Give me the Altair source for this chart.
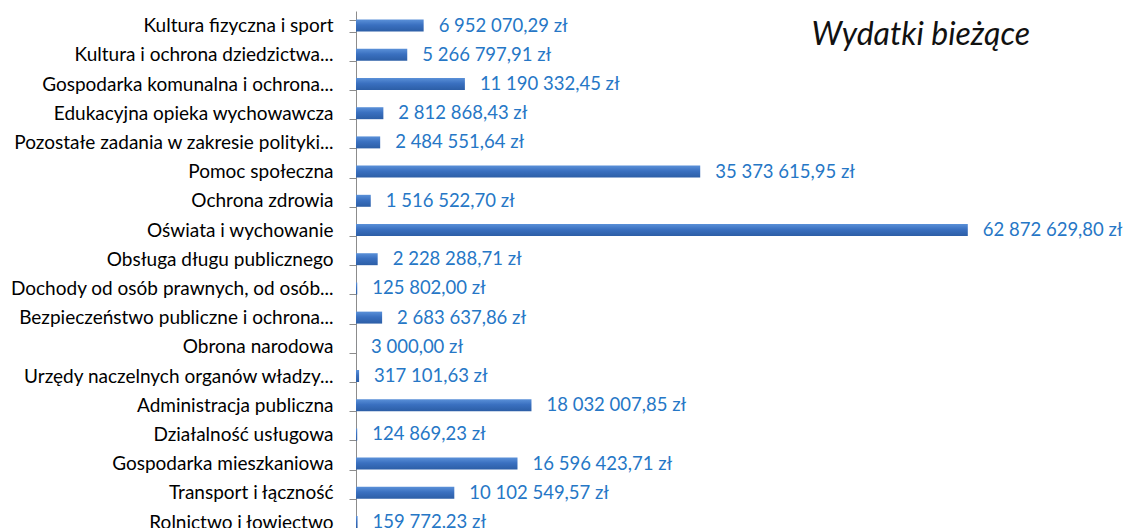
import altair as alt
import pandas as pd

categories = [
    "Kultura fizyczna i sport",
    "Kultura i ochrona dziedzictwa...",
    "Gospodarka komunalna i ochrona...",
    "Edukacyjna opieka wychowawcza",
    "Pozostałe zadania w zakresie polityki...",
    "Pomoc społeczna",
    "Ochrona zdrowia",
    "Oświata i wychowanie",
    "Obsługa długu publicznego",
    "Dochody od osób prawnych, od osób...",
    "Bezpieczeństwo publiczne i ochrona...",
    "Obrona narodowa",
    "Urzędy naczelnych organów władzy...",
    "Administracja publiczna",
    "Działalność usługowa",
    "Gospodarka mieszkaniowa",
    "Transport i łączność",
    "Rolnictwo i łowiectwo",
]
values = [
    6952070.29, 5266797.91, 11190332.45, 2812868.43, 2484551.64,
    35373615.95, 1516522.70, 62872629.80, 2228288.71, 125802.00,
    2683637.86, 3000.00, 317101.63, 18032007.85, 124869.23,
    16596423.71, 10102549.57, 159772.23,
]
title_text = ["Wydatki bieżące"]


def pl_format(v):
    s = f"{v:,.2f}"
    return s.replace(",", " ").replace(".", ",") + " zł"


df = pd.DataFrame({"kategoria": categories, "wartosc": values})
df["etykieta"] = [pl_format(v) for v in values]
title_df = pd.DataFrame({"tytul": title_text})

FONT = "Lato"
STEP = 29.2
N = len(categories)
PLOT_W = 759

y_enc = alt.Y(
    "kategoria:N",
    sort=categories,
    title=None,
    scale=alt.Scale(range=[0, STEP * N], paddingInner=0.59, paddingOuter=0.295),
    axis=alt.Axis(
        labelFont=FONT,
        labelFontSize=19,
        labelColor="#000000",
        labelPadding=16,
        labelLimit=400,
        tickSize=7,
        tickColor="#8c8c8c",
        domainColor="#8c8c8c",
        bandPosition=0,
        tickBand="extent",
        grid=False,
    ),
)
x_enc = alt.X(
    "wartosc:Q",
    scale=alt.Scale(domain=[0, 78000000], nice=False),
    axis=None,
)

base = alt.Chart(df)

bar_fill = alt.Gradient(
    gradient="linear",
    stops=[
        alt.GradientStop(color="#5a90d8", offset=0),
        alt.GradientStop(color="#3a70c0", offset=0.45),
        alt.GradientStop(color="#2c5ea6", offset=1),
    ],
    x1=0, x2=0, y1=0, y2=1,
)

bars = base.mark_bar(color=bar_fill).encode(x=x_enc, y=y_enc)

labels = base.mark_text(
    align="left", baseline="middle", dx=15, font=FONT, fontSize=18.5, color="#2677c6"
).encode(x=x_enc, y=alt.Y("kategoria:N", sort=categories), text="etykieta:N")

title_mark = alt.Chart(title_df).mark_text(
    align="right",
    baseline="alphabetic",
    font=FONT,
    fontSize=32,
    fontStyle="italic",
    color="#111111",
).encode(
    x=alt.value(PLOT_W - 85),
    y=alt.value(34),
    text="tytul:N",
)

chart = (
    alt.layer(bars, labels, title_mark)
    .properties(
        width=PLOT_W,
        height=525,
        autosize=alt.AutoSizeParams(type="none"),
        padding={"left": 348, "top": 3, "right": 8, "bottom": 0},
    )
    .configure_view(stroke=None)
)

chart.save("out.html", embed_options={"renderer": "svg", "actions": False})
